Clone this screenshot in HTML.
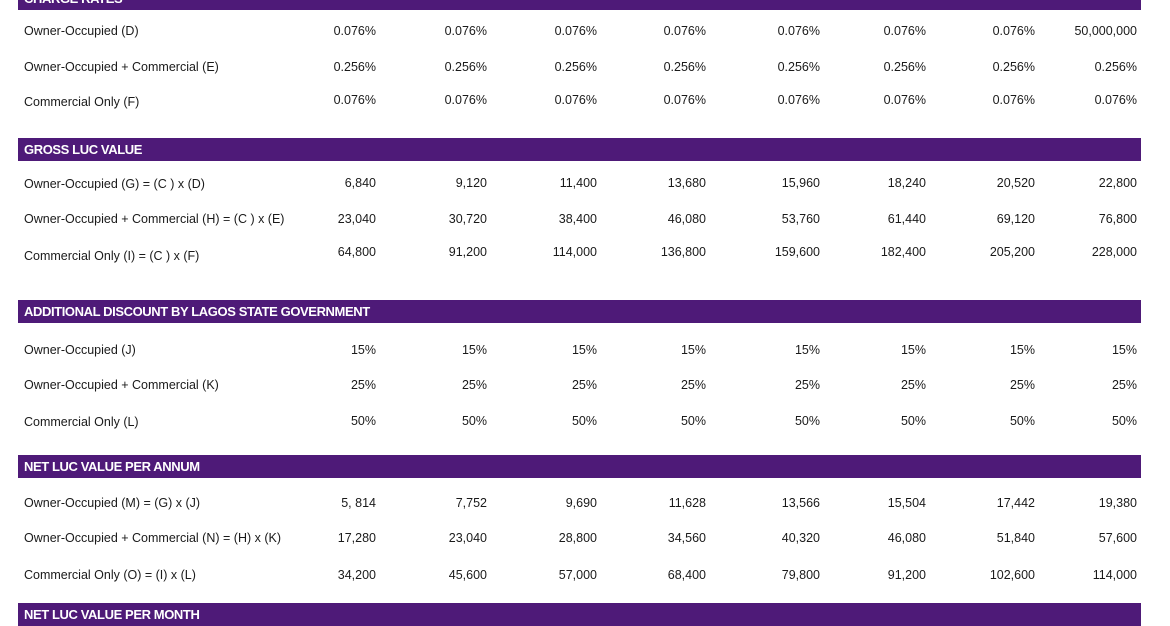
<!DOCTYPE html>
<html><head><meta charset="utf-8">
<style>
body{margin:0;width:1170px;height:610px;background:#fff;position:relative;overflow:hidden;font-family:"Liberation Sans",sans-serif;}
.bar{position:absolute;left:18px;width:1123px;height:23px;background:#4e1a78;}
.bar span{position:absolute;left:6px;top:4px;color:#fff;font-weight:bold;font-size:13px;letter-spacing:-0.4px;}
.lbl{position:absolute;left:24px;font-size:12.5px;color:#1a1a1a;transform:translateY(-50%);white-space:nowrap;}
.val{position:absolute;font-size:12.5px;color:#1a1a1a;transform:translate(-100%,-50%);white-space:nowrap;}
</style></head>
<body>
<div id="root"></div>
<script>
const colRight=[376,487,597,706,820,926,1035,1137];
const sections=[
 {title:"CHARGE RATES",barTop:-13,rows:[
  {label:"Owner-Occupied (D)",y:31,vals:["0.076%","0.076%","0.076%","0.076%","0.076%","0.076%","0.076%","50,000,000"]},
  {label:"Owner-Occupied + Commercial (E)",y:67,vals:["0.256%","0.256%","0.256%","0.256%","0.256%","0.256%","0.256%","0.256%"]},
  {label:"Commercial Only (F)",y:102,vals:["0.076%","0.076%","0.076%","0.076%","0.076%","0.076%","0.076%","0.076%"],vy:100}]},
 {title:"GROSS LUC VALUE",barTop:138,rows:[
  {label:"Owner-Occupied (G) = (C ) x (D)",y:184,vals:["6,840","9,120","11,400","13,680","15,960","18,240","20,520","22,800"],vy:183},
  {label:"Owner-Occupied + Commercial (H) = (C ) x (E)",y:219,vals:["23,040","30,720","38,400","46,080","53,760","61,440","69,120","76,800"]},
  {label:"Commercial Only (I) = (C ) x (F)",y:256,vals:["64,800","91,200","114,000","136,800","159,600","182,400","205,200","228,000"],vy:252}]},
 {title:"ADDITIONAL DISCOUNT BY LAGOS STATE GOVERNMENT",barTop:300,rows:[
  {label:"Owner-Occupied (J)",y:350,vals:["15%","15%","15%","15%","15%","15%","15%","15%"]},
  {label:"Owner-Occupied + Commercial (K)",y:385,vals:["25%","25%","25%","25%","25%","25%","25%","25%"]},
  {label:"Commercial Only (L)",y:422,vals:["50%","50%","50%","50%","50%","50%","50%","50%"],vy:421}]},
 {title:"NET LUC VALUE PER ANNUM",barTop:455,rows:[
  {label:"Owner-Occupied (M) = (G) x (J)",y:503,vals:["5, 814","7,752","9,690","11,628","13,566","15,504","17,442","19,380"]},
  {label:"Owner-Occupied + Commercial (N) = (H) x (K)",y:538,vals:["17,280","23,040","28,800","34,560","40,320","46,080","51,840","57,600"]},
  {label:"Commercial Only (O) = (I) x (L)",y:575,vals:["34,200","45,600","57,000","68,400","79,800","91,200","102,600","114,000"]}]},
 {title:"NET LUC VALUE PER MONTH",barTop:603,rows:[]}
];
const root=document.getElementById('root');
sections.forEach(s=>{
 const b=document.createElement('div');b.className='bar';b.style.top=s.barTop+'px';
 
 
 const t=document.createElement('span');t.textContent=s.title;b.appendChild(t);root.appendChild(b);
 s.rows.forEach(r=>{
  const l=document.createElement('div');l.className='lbl';l.style.top=r.y+'px';l.textContent=r.label;
  
  
  root.appendChild(l);
  r.vals.forEach((v,i)=>{
   const c=document.createElement('div');c.className='val';c.style.left=colRight[i]+'px';c.style.top=(r.vy||r.y)+'px';c.textContent=v;
   
   
   root.appendChild(c);
  });
 });
});
</script>
</body></html>
